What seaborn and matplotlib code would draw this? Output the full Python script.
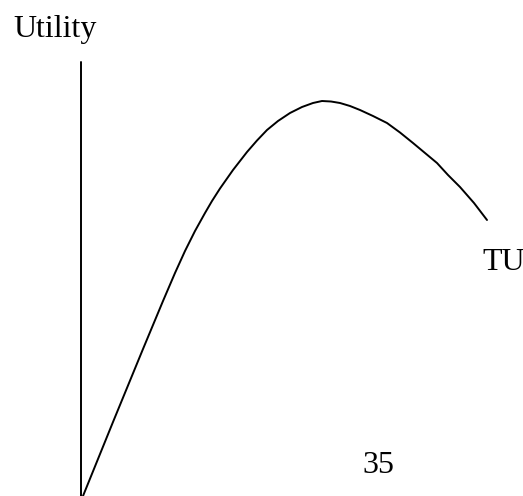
import matplotlib
matplotlib.use("Agg")
import matplotlib.pyplot as plt
import seaborn as sns
import pandas as pd

sns.set_theme(style="white")
plt.rcParams['font.family'] = ['Liberation Serif', 'DejaVu Serif']

# total utility curve (pixel-like units, y grows downward)
tu_x = [83, 113, 143, 163, 175, 185, 195, 205, 212, 220, 233, 247, 257, 267,
        278, 290, 302, 313, 322, 331, 340, 350, 360, 373, 387, 400, 413, 425,
        437, 448, 460, 474, 487]
tu_y = [496, 422, 349, 301, 273, 251, 231, 213, 201, 188.5, 170, 152, 140.5, 130,
        121, 113, 107, 103, 101, 101.5, 103, 106, 110, 116, 123, 132.5, 143, 153,
        163, 175, 187, 203, 220]

# vertical utility axis
axis_x = [81, 81]
axis_y = [62, 496]

labels = ["Utility", "TU", "35"]
label_x = [13, 482, 362]
label_y = [37, 270, 473]

df = pd.DataFrame({"x": tu_x, "y": tu_y})

fig = plt.figure(figsize=(5.23, 4.96), dpi=100)
ax = fig.add_axes([0, 0, 1, 1])

sns.lineplot(data=df, x="x", y="y", ax=ax, color="black", linewidth=1.4,
             sort=False, estimator=None)
ax.plot(axis_x, axis_y, color="black", linewidth=1.4)

for t, x, y in zip(labels, label_x, label_y):
    ax.text(x, y, t, fontsize=23, color="black", ha="left", va="baseline")

ax.set_xlim(0, 523)
ax.set_ylim(496, 0)
ax.axis("off")

fig.savefig("out.png", dpi=100)
